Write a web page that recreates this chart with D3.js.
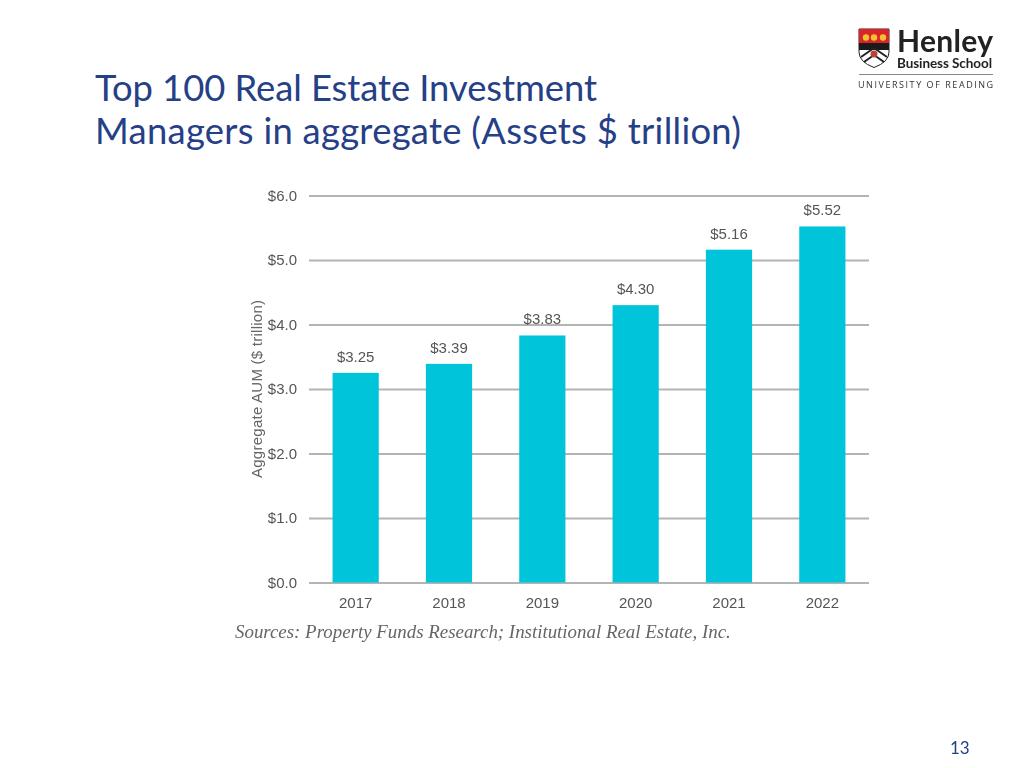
<!doctype html>
<html lang="en">
<head>
<meta charset="utf-8">
<title>Top 100 Real Estate Investment Managers</title>
<script src="https://cdn.jsdelivr.net/npm/d3@7"></script>
<style>
body{margin:0;padding:0;background:#fff;overflow:hidden;}
svg{display:block;}
text{font-family:"Liberation Sans",Arial,sans-serif;}
.title{font-family:Lato,sans-serif;font-size:36.4px;fill:#254087;}
.tick text{font-size:15px;fill:#555;stroke:none;}
.val{font-size:15px;fill:#555;}
</style>
</head>
<body>
<svg id="chart" width="1024" height="768">
	<defs><filter id="soft" x="-5%" y="-5%" width="110%" height="110%"><feGaussianBlur stdDeviation="0.5"/></filter></defs>
</svg>
<script>
var years = ["2017","2018","2019","2020","2021","2022"];
var aum = [3.25,3.39,3.83,4.30,5.16,5.52];
var yTicks = [0,1,2,3,4,5,6];
var titleLines = ["Top 100 Real Estate Investment","Managers in aggregate (Assets $ trillion)"];
var titleWidths = [502,646];
var sourceText = "Sources: Property Funds Research; Institutional Real Estate, Inc.";

var svg = d3.select("#chart");

//title
svg.selectAll("text.title").data(titleLines).enter().append("text")
	.attr("class","title")
	.attr("x",95)
	.attr("y",function(d,i){return 101+i*43;})
	.attr("textLength",function(d,i){return titleWidths[i];})
	.text(function(d){return d;});

//the chart is a soft scan in the original
var plot = svg.append("g").attr("filter","url(#soft)");

//scales
var xScale = d3.scaleBand().domain(years).range([309,869]).paddingInner(0.505).paddingOuter(0.2525);
var yScale = d3.scaleLinear().domain([0,6]).range([582.5,195.5]);

//gridlines and y labels
var yAxis = d3.axisLeft(yScale).tickValues(yTicks).tickSize(-560).tickPadding(12)
	.tickFormat(function(d){return "$"+d.toFixed(1);});
var gy = plot.append("g").attr("transform","translate(309,0)").call(yAxis);
gy.select(".domain").remove();
gy.selectAll(".tick line").attr("stroke","#b4b4b4").attr("stroke-width",2);

//x labels
var xAxis = d3.axisBottom(xScale).tickSize(0).tickPadding(15);
var gx = plot.append("g").attr("transform","translate(0,582.5)").call(xAxis);
gx.select(".domain").remove();

//bars
plot.selectAll("rect.bar").data(years).enter().append("rect")
	.attr("class","bar")
	.attr("x",function(d){return xScale(d);})
	.attr("width",xScale.bandwidth())
	.attr("y",function(d,i){return yScale(aum[i]);})
	.attr("height",function(d,i){return yScale(0)-yScale(aum[i]);})
	.attr("fill","#00c5da");

//value labels
plot.selectAll("text.val").data(years).enter().append("text")
	.attr("class","val")
	.attr("text-anchor","middle")
	.attr("x",function(d){return xScale(d)+xScale.bandwidth()/2;})
	.attr("y",function(d,i){return yScale(aum[i])-11;})
	.text(function(d,i){return "$"+aum[i].toFixed(2);});

//y title
plot.append("text")
	.attr("transform","translate(262,389) rotate(-90)")
	.attr("text-anchor","middle")
	.attr("font-size",15)
	.attr("fill","#666")
	.attr("textLength",178)
	.text("Aggregate AUM ($ trillion)");

//source
plot.append("text")
	.attr("x",235)
	.attr("y",638)
	.style("font-family","'Liberation Serif',serif")
	.attr("font-style","italic")
	.attr("font-size",18.9)
	.attr("fill","#666")
	.text(sourceText);

//page number
svg.append("text")
	.attr("x",950)
	.attr("y",754)
	.style("font-family","Lato,sans-serif")
	.attr("font-size",17)
	.attr("fill","#254087")
	.text("13");

//logo
var logo = svg.append("g");
logo.append("path").attr("d","M859 29H889V52Q889 62 874 67.5Q859 62 859 52Z").attr("fill","#fff").attr("stroke","#222").attr("stroke-width",1);
logo.append("rect").attr("x",859).attr("y",29).attr("width",30).attr("height",14).attr("fill","#d9252a");
logo.append("rect").attr("x",859).attr("y",43).attr("width",30).attr("height",7).attr("fill","#1a1a1a");
logo.append("path").attr("d","M874 48L861 57M874 48L887 57M874 55L864 62M874 55L884 62").attr("stroke","#222").attr("stroke-width",2).attr("fill","none");
logo.append("circle").attr("cx",874).attr("cy",54).attr("r",3.5).attr("fill","#b8433c");
[866,874,883].forEach(function(x){
	logo.append("circle").attr("cx",x).attr("cy",37.5).attr("r",3.2).attr("fill","#f2c230");
});
logo.append("text").attr("x",897).attr("y",52).style("font-family","Lato,sans-serif").attr("font-size",30).attr("font-weight",700).attr("fill","#222").attr("textLength",96).text("Henley");
logo.append("text").attr("x",897).attr("y",67.5).style("font-family","Lato,sans-serif").attr("font-size",13.5).attr("font-weight",700).attr("fill","#222").attr("textLength",95).text("Business School");
logo.append("line").attr("x1",859).attr("x2",993).attr("y1",74.5).attr("y2",74.5).attr("stroke","#888").attr("stroke-width",1);
logo.append("text").attr("x",858).attr("y",88).style("font-family","'Open Sans',sans-serif").attr("font-size",9).attr("fill","#333").attr("letter-spacing",1.55).text("UNIVERSITY OF READING");
</script>
</body>
</html>
